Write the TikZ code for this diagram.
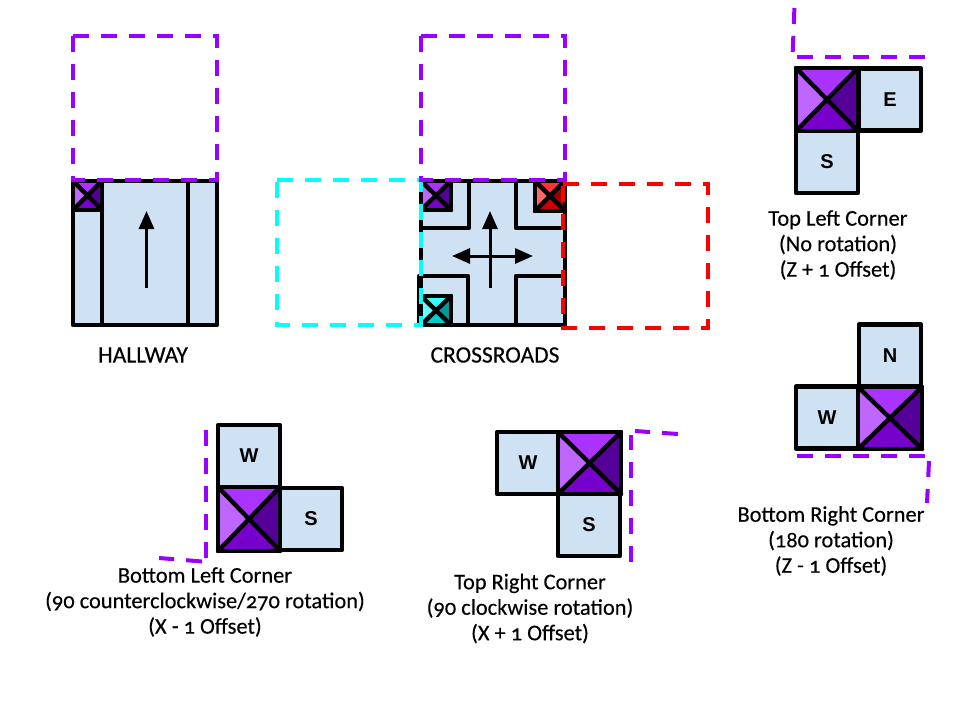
\documentclass[tikz,border=0pt]{standalone}
\usepackage{fontspec}
\setmainfont[Numbers=OldStyle,FakeBold=0.3,AutoFakeBold=false]{Carlito}
\newfontfamily\tilefont{Liberation Sans}
\usetikzlibrary{arrows.meta}
\definecolor{tileblue}{HTML}{CFE2F3}
\definecolor{dpurple}{HTML}{9900FF}
\definecolor{gcyan}{HTML}{00FFFF}
\definecolor{gred}{HTML}{FF0000}
\tikzset{
  x=1pt,y=-1pt,
  tilebox/.style={draw=black,fill=tileblue,line width=4.4pt,line join=round,inner sep=0pt,outer sep=0pt,minimum width=#1,minimum height=#1,font=\tilefont\bfseries\fontsize{20}{22}\selectfont},
  wall/.style={draw=black,line width=4.4pt,line join=round,line cap=round},
  guide/.style={line width=4pt,dash pattern=on 16pt off 12pt,line join=miter},
  flow/.style={draw=black,line width=3pt},
  captext/.style={align=center,font=\fontsize{22.4}{25.5}\selectfont,inner sep=0pt},
  headtext/.style={font=\fontsize{23.5}{24}\selectfont,inner sep=0pt},
  bighead/.tip={Triangle[length=18pt,width=15pt]}
}
\newcommand{\xsquare}[6]{% x1 y1 x2 y2 basename palette
  \fill[#6L] (#1,#2) -- ({(#1+#3)/2},{(#2+#4)/2}) -- (#1,#4) -- cycle;
  \fill[#6T] (#1,#2) -- ({(#1+#3)/2},{(#2+#4)/2}) -- (#3,#2) -- cycle;
  \fill[#6R] (#3,#2) -- ({(#1+#3)/2},{(#2+#4)/2}) -- (#3,#4) -- cycle;
  \fill[#6B] (#1,#4) -- ({(#1+#3)/2},{(#2+#4)/2}) -- (#3,#4) -- cycle;
  \draw[wall] (#1,#2) rectangle (#3,#4);
  \draw[wall] (#1,#2) -- (#3,#4) (#1,#4) -- (#3,#2);
}
\definecolor{pL}{HTML}{BF66FF}\definecolor{pT}{HTML}{AA33FF}\definecolor{pB}{HTML}{7700CC}\definecolor{pR}{HTML}{550099}
\definecolor{rL}{HTML}{FF6666}\definecolor{rT}{HTML}{FF3333}\definecolor{rB}{HTML}{CC0000}\definecolor{rR}{HTML}{990000}
\definecolor{cL}{HTML}{66FFFF}\definecolor{cT}{HTML}{33FFFF}\definecolor{cB}{HTML}{00CCCC}\definecolor{cR}{HTML}{009999}
\begin{document}
\begin{tikzpicture}
\useasboundingbox (0,0) rectangle (960,720);
\fill[white] (0,0) rectangle (960,720);

% HALLWAY
\fill[tileblue] (73,181) rectangle (217,325);
\draw[wall] (73,181) rectangle (217,325);
\draw[wall] (102,181) -- (102,325);
\draw[wall] (188,181) -- (188,325);
\xsquare{73}{181}{102}{210}{h}{p}
\coordinate (ha) at (146.5,288);
\coordinate (hb) at (146.5,211);
\draw[flow,-bighead] (ha) -- (hb);
\draw[guide,draw=dpurple] (73,36) -- (217,36) -- (217,180) -- (73,180) -- cycle;
\node[headtext] (hallway) at (143,355) {HALLWAY};

% CROSSROADS
\fill[tileblue] (421,181) rectangle (565,325);
\draw[wall] (421,181) rectangle (565,325);
\draw[wall] (421,228) -- (469,228) -- (469,181);
\draw[wall] (565,228) -- (516,228) -- (516,181);
\draw[wall] (565,276) -- (516,276) -- (516,325);
\draw[wall] (419,325) -- (419,276) -- (468,276) -- (468,325);
\xsquare{421}{181}{451}{210}{c1}{p}
\xsquare{535}{181}{565}{211}{c2}{r}
\xsquare{421}{296}{451}{325}{c3}{c}
\coordinate (ca) at (490,288);
\coordinate (cb) at (490,211);
\coordinate (cl) at (452,256);
\coordinate (cr) at (533,256);
\draw[flow,-bighead] (ca) -- (cb);
\draw[flow,bighead-bighead] (cl) -- (cr);
\draw[guide,draw=gcyan] (277,180) -- (421,180) -- (421,325) -- (277,325) -- cycle;
\draw[guide,draw=gred] (563,184) -- (708,184) -- (708,328) -- (563,328) -- cycle;
\draw[guide,draw=dpurple] (421,36) -- (565,36) -- (565,180) -- (421,180) -- cycle;
\node[headtext] (crossroads) at (495,355) {CROSSROADS};

% Top left corner
\node[tilebox=62pt] (tlE) at (890,99.5) {E};
\node[tilebox=62pt] (tlS) at (827,162) {S};
\xsquare{796}{68}{858}{131}{tl}{p}
\draw[guide,draw=dpurple] (794.4,8) -- (792.7,52);
\draw[guide,draw=dpurple] (797,57) -- (925,57);
\node[captext] (tlcap) at (838,245) {Top Left Corner\\(No rotation)\\(Z + 1 Offset)};

% Bottom right corner
\node[tilebox=62pt] (brN) at (890,355.5) {N};
\node[tilebox=62pt] (brW) at (827,417.5) {W};
\xsquare{858}{387}{922}{449}{br}{p}
\draw[guide,draw=dpurple] (797,456) -- (925,456);
\draw[guide,draw=dpurple] (929,461) -- (927,503);
\node[captext] (brcap) at (831,541) {Bottom Right Corner\\(180 rotation)\\(Z - 1 Offset)};

% Bottom left corner
\node[tilebox=62pt] (blW) at (249,456) {W};
\node[tilebox=62pt] (blS) at (311,519) {S};
\xsquare{218}{487}{280}{551}{bl}{p}
\draw[guide,draw=dpurple] (206,430) -- (206,558);
\draw[guide,draw=dpurple] (202,561.5) -- (159,558);
\node[captext] (blcap) at (205,602) {Bottom Left Corner\\(90 counterclockwise/270 rotation)\\(X - 1 Offset)};

% Top right corner
\node[tilebox=62pt] (trW) at (528,463) {W};
\node[tilebox=62pt] (trS) at (589,525) {S};
\xsquare{558}{432}{621}{494}{tr}{p}
\draw[guide,draw=dpurple] (631,562) -- (631,435);
\draw[guide,draw=dpurple] (678,434) -- (635,431);
\node[captext] (trcap) at (530,608.5) {Top Right Corner\\(90 clockwise rotation)\\(X + 1 Offset)};
\end{tikzpicture}
\end{document}
